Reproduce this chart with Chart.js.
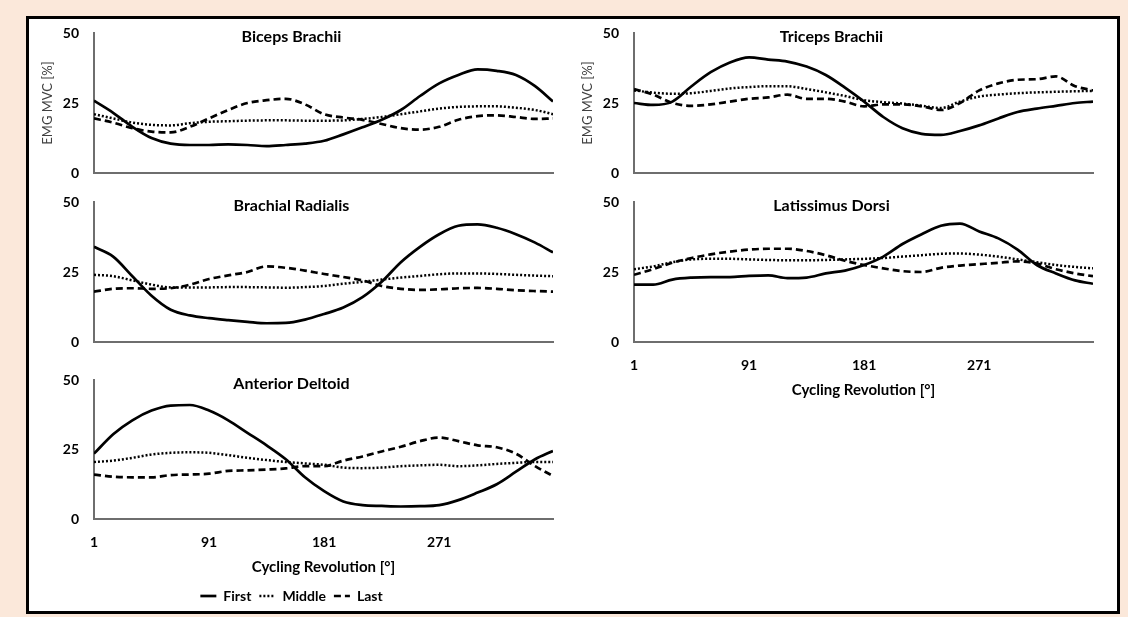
<!DOCTYPE html>
<html>
<head>
<meta charset="utf-8">
<script src="https://cdn.jsdelivr.net/npm/chart.js@4.4.1/dist/chart.umd.min.js"></script>
<style>
  body { margin: 0; width: 1128px; height: 617px; background: #fbe8da; position: relative; overflow: hidden; }
  .frame { position: absolute; left: 26px; top: 16px; width: 1094px; height: 598px; box-sizing: border-box; border: 3px solid #000; background: #fff; }
  canvas { position: absolute; }
</style>
</head>
<body>
<div class="frame"></div>
<canvas id="biceps"></canvas>
<canvas id="triceps"></canvas>
<canvas id="brachial"></canvas>
<canvas id="latissimus"></canvas>
<canvas id="deltoid"></canvas>

<script>
// data
const degrees = [1, 16, 31, 46, 61, 76, 91, 106, 121, 136, 151, 166, 181, 196, 211, 226, 241, 256, 271, 286, 301, 316, 331, 346, 360];
const xTicks = [1, 91, 181, 271];
const yTicks = [0, 25, 50];
const seriesNames = ["First", "Middle", "Last"];

const bicepsFirst  = [25.8, 21.5, 16.5, 12.5, 10.5, 10.0, 10.0, 10.2, 10.0, 9.6, 10.0, 10.5, 11.5, 13.8, 16.3, 19.0, 22.5, 27.5, 32.0, 35.0, 37.0, 36.5, 35.0, 31.0, 25.5];
const bicepsMiddle = [21.0, 19.5, 18.0, 17.2, 17.0, 17.8, 18.3, 18.5, 18.7, 18.8, 18.8, 18.7, 18.7, 18.8, 19.3, 20.0, 21.0, 22.0, 23.0, 23.6, 23.8, 23.8, 23.3, 22.5, 21.0];
const bicepsLast   = [19.5, 18.0, 16.0, 14.8, 14.5, 16.5, 19.5, 22.5, 25.0, 26.0, 26.5, 24.5, 21.0, 19.8, 19.0, 17.5, 16.0, 15.5, 16.5, 19.0, 20.3, 20.6, 20.0, 19.3, 19.5];

const tricepsFirst  = [25.0, 24.3, 25.5, 31.0, 36.0, 39.5, 41.3, 40.5, 39.8, 38.0, 35.0, 30.5, 25.5, 20.0, 16.0, 14.0, 13.6, 15.0, 17.0, 19.5, 21.8, 23.0, 24.0, 25.0, 25.5];
const tricepsMiddle = [29.5, 28.7, 28.3, 28.5, 29.3, 30.2, 30.7, 31.0, 31.0, 30.0, 28.8, 27.5, 26.0, 25.3, 24.8, 24.0, 23.2, 25.5, 27.3, 28.0, 28.5, 28.8, 29.0, 29.2, 29.3];
const tricepsLast   = [30.0, 28.0, 25.0, 24.0, 24.5, 25.5, 26.5, 27.0, 28.0, 26.5, 26.5, 25.5, 23.8, 24.5, 24.5, 23.8, 22.5, 25.0, 29.5, 32.0, 33.3, 33.5, 34.5, 31.0, 29.5];

const brachialFirst  = [34.0, 30.5, 23.5, 16.5, 11.5, 9.5, 8.5, 7.8, 7.2, 6.7, 6.8, 8.0, 10.0, 12.3, 16.0, 21.5, 28.5, 34.0, 38.5, 41.5, 42.0, 40.8, 38.5, 35.5, 32.0];
const brachialMiddle = [24.0, 23.5, 22.0, 20.5, 19.5, 19.5, 19.5, 19.6, 19.6, 19.5, 19.4, 19.6, 20.0, 20.8, 21.5, 22.3, 23.0, 23.6, 24.2, 24.5, 24.5, 24.3, 24.0, 23.7, 23.5];
const brachialLast   = [18.0, 19.0, 19.2, 19.0, 19.2, 20.5, 22.5, 23.8, 25.0, 27.0, 26.5, 25.5, 24.3, 23.2, 22.0, 20.0, 19.0, 18.6, 18.8, 19.2, 19.3, 19.0, 18.5, 18.2, 18.0];

const latissimusFirst  = [20.5, 20.5, 22.3, 23.0, 23.2, 23.2, 23.6, 23.8, 22.8, 23.0, 24.5, 25.5, 27.5, 30.5, 35.0, 38.5, 41.5, 42.3, 39.5, 37.0, 33.0, 27.5, 24.5, 22.0, 20.8];
const latissimusMiddle = [26.0, 27.0, 28.5, 29.5, 29.7, 29.7, 29.5, 29.3, 29.2, 29.2, 29.3, 29.5, 29.7, 30.0, 30.5, 31.0, 31.5, 31.6, 31.2, 30.5, 29.5, 28.5, 27.5, 26.8, 26.3];
const latissimusLast   = [24.0, 26.0, 28.3, 30.0, 31.3, 32.3, 33.0, 33.3, 33.3, 32.5, 31.0, 29.0, 27.5, 26.3, 25.3, 25.0, 26.5, 27.3, 27.8, 28.3, 28.8, 28.0, 26.0, 24.5, 23.5];

const deltoidFirst  = [23.5, 30.5, 35.5, 39.0, 40.8, 41.0, 39.0, 35.5, 31.0, 26.5, 21.5, 15.0, 10.0, 6.3, 5.0, 4.7, 4.5, 4.6, 5.0, 6.8, 9.5, 12.5, 17.0, 21.5, 24.5];
const deltoidMiddle = [20.5, 21.0, 22.0, 23.2, 23.8, 24.0, 23.8, 23.0, 22.0, 21.2, 20.5, 20.0, 19.5, 18.5, 18.3, 18.5, 19.0, 19.3, 19.5, 19.0, 19.3, 19.8, 20.2, 20.5, 20.5];
const deltoidLast   = [16.0, 15.2, 15.0, 15.0, 15.8, 16.0, 16.3, 17.3, 17.5, 17.8, 18.2, 19.0, 19.0, 21.0, 22.5, 24.3, 26.0, 28.0, 29.3, 28.0, 26.5, 25.8, 23.5, 19.0, 15.5];

Chart.defaults.font.family = "Lato, 'Open Sans', sans-serif";
Chart.defaults.color = "#000";

const lineStyles = [
  { borderWidth: 2.7, borderDash: [] },
  { borderWidth: 2.5, borderDash: [2, 2] },
  { borderWidth: 2.7, borderDash: [7, 4] }
];

// padding above plot = y tick padding + half label height, keep it round
const TOP = 24;

function makeChart(id, box, title, series, opt) {
  const canvas = document.getElementById(id);
  const xHeight = opt.xLabels ? 62 : 4;
  canvas.width = box.w;
  canvas.height = TOP + box.plotH + (opt.xLabels ? xHeight : TOP) + (opt.legend ? 32 : 0);
  canvas.style.left = box.x + "px";
  canvas.style.top = (box.plotTop - TOP) + "px";

  const datasets = series.map((vals, i) => ({
    label: seriesNames[i],
    data: degrees.map((d, j) => ({ x: d, y: vals[j] })),
    borderColor: "#000",
    backgroundColor: "#000",
    borderWidth: lineStyles[i].borderWidth,
    borderDash: lineStyles[i].borderDash,
    pointRadius: 0,
    pointStyle: "line",
    cubicInterpolationMode: "monotone",
    fill: false
  }));

  return new Chart(canvas, {
    type: "line",
    data: { datasets: datasets },
    options: {
      responsive: false,
      animation: false,
      layout: { padding: { top: TOP, right: box.padRight, bottom: opt.xLabels ? 0 : TOP - xHeight, left: 0 } },
      plugins: {
        tooltip: { enabled: false },
        title: {
          display: true,
          text: title,
          font: { size: 16, weight: "bold" },
          color: "#000",
          padding: { top: -5.6, bottom: -13.6 }
        },
        legend: {
          display: !!opt.legend,
          position: "bottom",
          labels: {
            usePointStyle: true,
            pointStyleWidth: 16,
            padding: 8,
            font: { size: 14, weight: "bold" },
            color: "#000",
            generateLabels: (chart) => {
              const items = Chart.defaults.plugins.legend.labels.generateLabels(chart);
              items.forEach((it, i) => {
                const ds = chart.data.datasets[i];
                it.lineDash = ds.borderDash;
                it.lineWidth = ds.borderWidth;
                it.strokeStyle = ds.borderColor;
              });
              return items;
            }
          }
        }
      },
      scales: {
        x: {
          type: "linear",
          min: 1,
          max: 360,
          afterBuildTicks: (s) => { s.ticks = xTicks.map(v => ({ value: v })); },
          afterFit: (s) => { s.height = xHeight; },
          grid: { display: false, drawTicks: false },
          border: { display: true, color: "#6e6e6e", width: 2 },
          ticks: {
            display: !!opt.xLabels,
            padding: 15.5,
            maxRotation: 0,
            autoSkip: false,
            font: { size: 14, weight: "bold" },
            color: "#000"
          },
          title: {
            display: !!opt.xLabels,
            text: "Cycling Revolution [°]",
            font: { size: 15, weight: "bold" },
            color: "#000",
            padding: { top: 0, bottom: 5 }
          }
        },
        y: {
          min: 0,
          max: 50,
          afterBuildTicks: (s) => { s.ticks = yTicks.map(v => ({ value: v })); },
          afterFit: (s) => { s.width = 64; },
          grid: { display: false, drawTicks: false },
          border: { display: true, color: "#6e6e6e", width: 2 },
          ticks: {
            padding: 15,
            font: { size: 14, weight: "bold" },
            color: "#000"
          },
          title: {
            display: !!opt.yTitle,
            text: "EMG MVC [%]",
            font: { size: 13, weight: "normal" },
            color: "#404040",
            padding: { top: 10, bottom: 0 }
          }
        }
      }
    }
  });
}

makeChart("biceps",     { x: 30,  plotTop: 33,  plotH: 140, w: 542, padRight: 19 }, "Biceps Brachii",
  [bicepsFirst, bicepsMiddle, bicepsLast], { yTitle: true });
makeChart("triceps",    { x: 570, plotTop: 33,  plotH: 140, w: 528, padRight: 5 },  "Triceps Brachii",
  [tricepsFirst, tricepsMiddle, tricepsLast], { yTitle: true });
makeChart("brachial",   { x: 30,  plotTop: 202, plotH: 140, w: 542, padRight: 19 }, "Brachial Radialis",
  [brachialFirst, brachialMiddle, brachialLast], {});
makeChart("latissimus", { x: 570, plotTop: 202, plotH: 140, w: 528, padRight: 5 },  "Latissimus Dorsi",
  [latissimusFirst, latissimusMiddle, latissimusLast], { xLabels: true });
makeChart("deltoid",    { x: 30,  plotTop: 380, plotH: 139, w: 542, padRight: 19 }, "Anterior Deltoid",
  [deltoidFirst, deltoidMiddle, deltoidLast], { xLabels: true, legend: true });
</script>
</body>
</html>
